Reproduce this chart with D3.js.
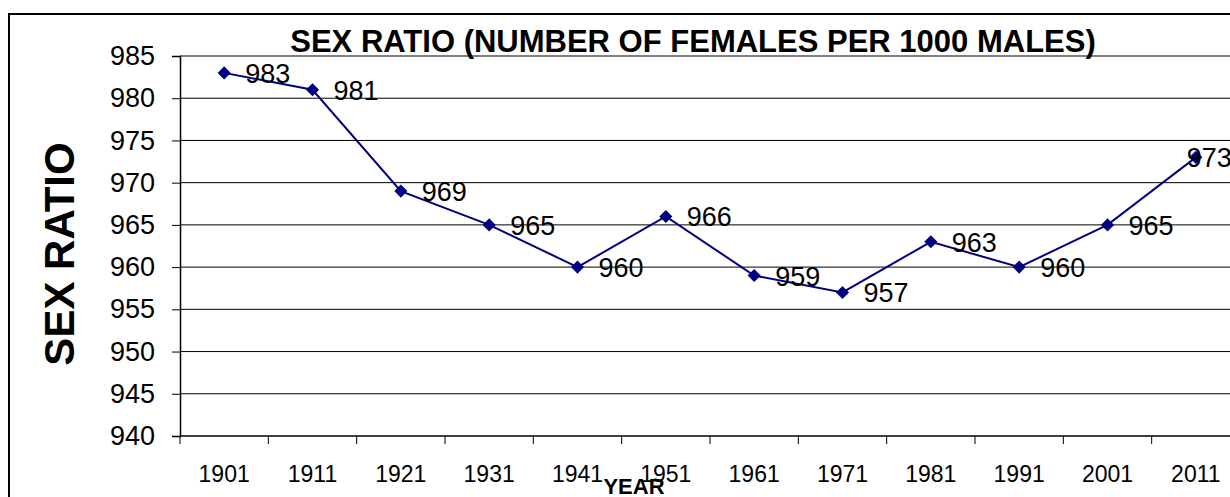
<!DOCTYPE html>
<html>
<head>
<meta charset="utf-8">
<script src="https://cdn.jsdelivr.net/npm/d3@7"></script>
<style>
  body { margin: 0; background: #fff; }
  svg { display: block; font-family: Arial, "Liberation Sans", sans-serif; }
</style>
</head>
<body>
<svg width="1230" height="497"></svg>
<script>
const years = ["1901", "1911", "1921", "1931", "1941", "1951", "1961", "1971", "1981", "1991", "2001", "2011"];
const ratios = [983, 981, 969, 965, 960, 966, 959, 957, 963, 960, 965, 973];
const yTicks = [940, 945, 950, 955, 960, 965, 970, 975, 980, 985];

const lineColor = "#000080";
let svg = d3.select("svg");

// outer chart frame
svg.append("rect")
    .attr("x", 9).attr("y", 14)
    .attr("width", 1240).attr("height", 500)
    .attr("fill", "none").attr("stroke", "#000").attr("stroke-width", 2);

const plot = {left: 180, top: 56, right: 1240, bottom: 436};

let x = d3.scaleBand().domain(years).range([plot.left, plot.right]);
let y = d3.scaleLinear().domain([940, 985]).range([plot.bottom, plot.top]);
let cx = (i) => x(years[i]) + x.bandwidth() / 2;

// gridlines
svg.append("g").selectAll("line")
    .data(yTicks.slice(1)).enter()
    .append("line")
    .attr("x1", plot.left).attr("x2", plot.right)
    .attr("y1", d => y(d)).attr("y2", d => y(d))
    .attr("stroke", d => d === 985 ? "#808080" : "#000")
    .attr("stroke-width", d => d === 985 ? 2 : 1);

// y axis
let yAxis = svg.append("g")
    .attr("transform", "translate(" + plot.left + ",0)")
    .call(d3.axisLeft(y).tickValues(yTicks).tickSize(8).tickPadding(17));
yAxis.select(".domain").attr("stroke", "#000").attr("stroke-width", 1.5);
yAxis.selectAll("text").attr("font-size", 27).attr("fill", "#000")
    .attr("font-family", "Arial, 'Liberation Sans', sans-serif");

// x axis, ticks between categories
let xAxis = svg.append("g")
    .attr("transform", "translate(0," + plot.bottom + ")");
xAxis.append("line")
    .attr("x1", plot.left).attr("x2", plot.right)
    .attr("stroke", "#000").attr("stroke-width", 1.5);
xAxis.selectAll(".tk")
    .data(years).enter()
    .append("line")
    .attr("class", "tk")
    .attr("x1", d => x(d)).attr("x2", d => x(d))
    .attr("y1", 0).attr("y2", 8)
    .attr("stroke", "#000");
xAxis.selectAll(".lbl")
    .data(years).enter()
    .append("text")
    .attr("class", "lbl")
    .attr("x", d => x(d) + x.bandwidth() / 2)
    .attr("y", 46)
    .attr("text-anchor", "middle")
    .attr("font-size", 23)
    .text(d => d);

// line
let line = d3.line()
    .x((d, i) => cx(i))
    .y(d => y(d));
svg.append("path")
    .datum(ratios)
    .attr("d", line)
    .attr("fill", "none")
    .attr("stroke", lineColor)
    .attr("stroke-width", 2);

// diamond markers
svg.append("g").selectAll("path")
    .data(ratios).enter()
    .append("path")
    .attr("d", d3.symbol().type(d3.symbolDiamond2).size(110))
    .attr("transform", (d, i) => "translate(" + cx(i) + "," + y(d) + ")")
    .attr("fill", lineColor);

// value labels (last one pulled back onto its marker, as in the original)
svg.append("g").selectAll("text")
    .data(ratios).enter()
    .append("text")
    .attr("x", (d, i) => i === ratios.length - 1 ? cx(i) - 9 : cx(i) + 21)
    .attr("y", d => y(d) + 10)
    .attr("font-size", 27)
    .text(d => d);

// title
svg.append("text")
    .attr("x", 693).attr("y", 52)
    .attr("text-anchor", "middle")
    .attr("font-size", 31).attr("font-weight", "bold")
    .text("SEX RATIO (NUMBER OF FEMALES PER 1000 MALES)");

// axis titles
svg.append("text")
    .attr("transform", "translate(74,254) rotate(-90)")
    .attr("text-anchor", "middle")
    .attr("font-size", 42).attr("font-weight", "bold")
    .text("SEX RATIO");

svg.append("text")
    .attr("x", 634).attr("y", 494)
    .attr("text-anchor", "middle")
    .attr("font-size", 22).attr("font-weight", "bold")
    .text("YEAR");
</script>
</body>
</html>
